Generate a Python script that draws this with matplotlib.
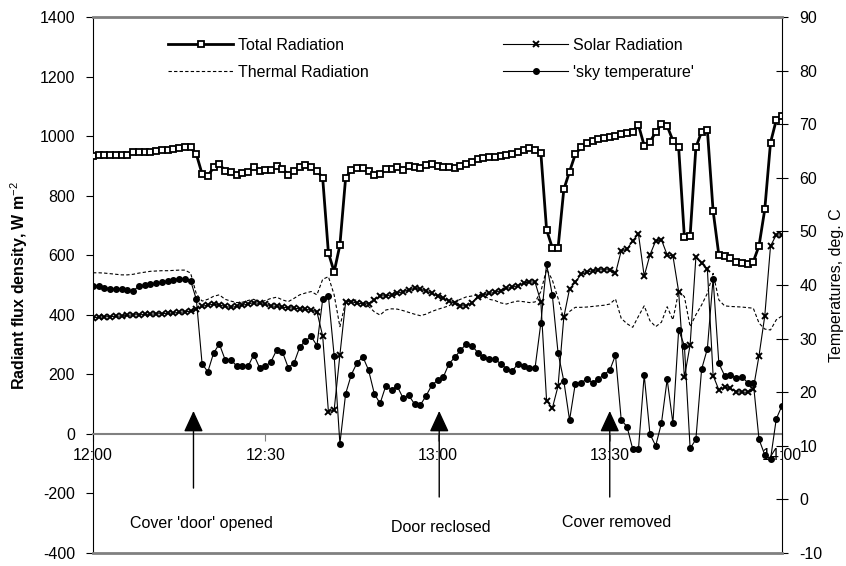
import matplotlib
matplotlib.use("Agg")
import matplotlib.pyplot as plt

plt.rcParams['font.family'] = ['Liberation Sans', 'DejaVu Sans']
plt.rcParams['mathtext.fontset'] = 'custom'
plt.rcParams['mathtext.rm'] = 'Liberation Sans'
plt.rcParams['mathtext.it'] = 'Liberation Sans:italic'
plt.rcParams['mathtext.bf'] = 'Liberation Sans:bold'
plt.rcParams['axes.unicode_minus'] = False

# minutes after 12:00
minutes = list(range(0, 121))

total_radiation = [933, 938, 938, 937, 936, 936, 937, 945, 947, 947, 948, 950, 954, 955, 956, 960, 962, 962,
                   939, 873, 866, 895, 906, 884, 881, 870, 877, 881, 897, 884, 886, 886, 900, 890, 870, 884,
                   895, 903, 897, 884, 860, 608, 544, 634, 860, 886, 894, 894, 884, 870, 873, 889, 889, 897,
                   886, 901, 897, 892, 903, 905, 899, 895, 895, 894, 899, 906, 914, 922, 925, 929, 931, 933,
                   935, 939, 948, 955, 960, 955, 944, 685, 625, 625, 821, 881, 939, 962, 976, 983, 990, 993,
                   997, 1001, 1008, 1010, 1014, 1037, 968, 981, 1013, 1040, 1034, 985, 962, 660, 665, 962,
                   1015, 1021, 749, 601, 597, 592, 578, 574, 572, 578, 632, 754, 978, 1054, 1068]

solar_radiation = [390, 392, 393, 394, 395, 396, 398, 400, 400, 401, 402, 403, 404, 405, 406, 408, 410, 412,
                   420, 428, 433, 435, 433, 428, 425, 428, 432, 436, 441, 438, 435, 430, 428, 425, 424, 422,
                   420, 418, 416, 410, 329, 75, 80, 265, 444, 444, 439, 437, 437, 450, 464, 463, 467, 472,
                   478, 483, 489, 486, 480, 472, 463, 456, 446, 439, 430, 430, 441, 461, 467, 472, 475, 481,
                   489, 492, 498, 506, 511, 509, 444, 111, 86, 161, 392, 487, 509, 536, 543, 548, 551, 551,
                   551, 539, 615, 620, 649, 671, 530, 601, 648, 652, 601, 598, 478, 190, 299, 593, 573, 554,
                   196, 148, 157, 153, 142, 140, 140, 151, 263, 396, 631, 668, 668]

thermal_radiation = [541, 541, 540, 538, 536, 534, 534, 536, 540, 543, 546, 547, 548, 548, 549, 550, 550, 540,
                     470, 446, 452, 462, 467, 452, 446, 441, 442, 448, 452, 441, 448, 455, 459, 450, 444, 455,
                     467, 473, 478, 467, 519, 528, 467, 360, 444, 448, 450, 440, 428, 410, 399, 416, 420, 419,
                     414, 408, 402, 397, 402, 411, 418, 424, 430, 444, 452, 460, 463, 467, 467, 452, 448, 440,
                     436, 442, 446, 444, 441, 443, 478, 553, 517, 455, 385, 411, 425, 425, 426, 428, 430, 432,
                     436, 453, 388, 370, 358, 395, 430, 380, 360, 375, 427, 383, 478, 461, 360, 400, 433, 472,
                     539, 450, 430, 428, 427, 426, 424, 422, 372, 352, 349, 383, 396]

sky_temperature = [39.9, 39.8, 39.5, 39.3, 39.3, 39.3, 39.0, 38.9, 39.8, 40.0, 40.1, 40.3, 40.5, 40.8, 41.0,
                   41.2, 41.2, 40.8, 37.3, 25.3, 23.8, 27.3, 29.0, 26.1, 26.1, 24.9, 24.9, 24.8, 27.0, 24.6,
                   24.8, 25.7, 27.9, 27.5, 24.6, 25.4, 28.4, 29.6, 30.4, 28.7, 37.3, 38.0, 26.8, 10.4, 19.7,
                   23.3, 25.5, 26.6, 24.1, 19.7, 17.9, 21.2, 20.5, 21.1, 18.9, 19.4, 17.8, 17.6, 19.3, 21.3,
                   22.2, 22.8, 25.3, 26.5, 27.8, 29.0, 28.7, 27.4, 26.5, 26.2, 26.2, 25.3, 24.4, 23.9, 25.3,
                   24.8, 24.6, 24.6, 32.9, 43.9, 38.1, 27.3, 22.1, 14.8, 21.6, 21.8, 22.4, 21.8, 22.4, 23.3,
                   24.1, 26.9, 14.8, 13.6, 9.4, 9.4, 23.2, 12.2, 10.0, 14.2, 22.4, 14.2, 31.6, 28.7, 9.5,
                   11.2, 24.3, 28.1, 41.2, 25.4, 23.1, 23.3, 22.6, 22.9, 21.8, 21.8, 11.2, 8.3, 7.5, 15.0,
                   17.5]

tick_minutes = [0, 30, 60, 90, 120]
tick_labels = ["12:00", "12:30", "13:00", "13:30", "14:00"]

events = ["Cover 'door' opened", "Door reclosed", "Cover removed"]
event_minutes = [17.5, 60.3, 90.0]

GRAY = '#808080'
FS = 11.5

fig = plt.figure(figsize=(8.46, 5.66), dpi=100)
ax = fig.add_axes([93 / 846, 1 - 553 / 566, (782 - 93) / 846, (553 - 17) / 566])
ax.set_xlim(0, 120)
ax.set_ylim(-400, 1400)
ax2 = ax.twinx()
ax2.set_ylim(-10, 90)

# lines
l_total, = ax.plot(minutes, total_radiation, color='black', lw=2.0, marker='s', ms=5.0,
                   mfc='white', mec='black', mew=1.3, zorder=5)
l_solar, = ax.plot(minutes, solar_radiation, color='black', lw=0.8, marker='x', ms=4.5,
                   mew=1.4, zorder=4)
l_thermal, = ax.plot(minutes, thermal_radiation, color='black', lw=0.8, ls=(0, (3, 2)), zorder=3)
l_sky, = ax2.plot(minutes, sky_temperature, color='black', lw=0.8, marker='o', ms=4.0,
                  mfc='black', mec='black', zorder=4)

# spines
ax.spines['top'].set_visible(False)
ax.spines['right'].set_visible(False)
ax.spines['left'].set_color('black')
ax.spines['bottom'].set_position(('data', 0))
ax.spines['bottom'].set_color(GRAY)
ax.spines['bottom'].set_linewidth(1.5)
ax2.spines['left'].set_visible(False)
ax2.spines['top'].set_color(GRAY)
ax2.spines['top'].set_linewidth(2)
ax2.spines['bottom'].set_color(GRAY)
ax2.spines['bottom'].set_linewidth(2)
ax2.spines['right'].set_color('black')

ax.set_xticks(tick_minutes)
ax.set_xticklabels(tick_labels)
ax.tick_params(axis='x', direction='out', length=5, color=GRAY, labelsize=FS, pad=5)
ax.set_yticks(range(-400, 1401, 200))
ax.tick_params(axis='y', direction='out', length=5, labelsize=FS, pad=8)
ax2.set_yticks(range(-10, 91, 10))
ax2.tick_params(axis='y', direction='inout', length=9, labelsize=FS, pad=8)

ax.set_ylabel("Radiant flux density, W m$^{-2}$", fontsize=FS, fontweight='bold')
ax.yaxis.set_label_coords((30 - 93) / 689, 0.5)
ax2.set_ylabel("Temperatures, deg. C", fontsize=FS)
ax2.yaxis.set_label_coords((829 - 93) / 689, 0.5)

# arrows and event labels
tails = [-182, -212, -212]
text_x = [18.9, 60.6, 91.2]
text_y = [-302, -316, -299]
for m, t, tx, ty, lab in zip(event_minutes, tails, text_x, text_y, events):
    ax.annotate('', xy=(m, 77), xytext=(m, t),
                arrowprops=dict(arrowstyle='-|>,head_length=1.3,head_width=0.6',
                                mutation_scale=10, color='black', lw=1.0,
                                shrinkA=0, shrinkB=0), zorder=6)
    ax.text(tx, ty, lab, ha='center', va='center', fontsize=FS)

# legends
leg1 = fig.legend([l_total, l_thermal], ["Total Radiation", "Thermal Radiation"],
                  loc='upper left', bbox_to_anchor=(168 / 846, 1 - 38 / 566),
                  frameon=False, fontsize=FS, handlelength=4.1, handletextpad=0.3,
                  labelspacing=0.75, borderpad=0, borderaxespad=0)
leg2 = fig.legend([l_solar, l_sky], ["Solar Radiation", "'sky temperature'"],
                  loc='upper left', bbox_to_anchor=(503 / 846, 1 - 38 / 566),
                  frameon=False, fontsize=FS, handlelength=4.1, handletextpad=0.3,
                  labelspacing=0.75, borderpad=0, borderaxespad=0)

fig.savefig("out.png", dpi=100)
